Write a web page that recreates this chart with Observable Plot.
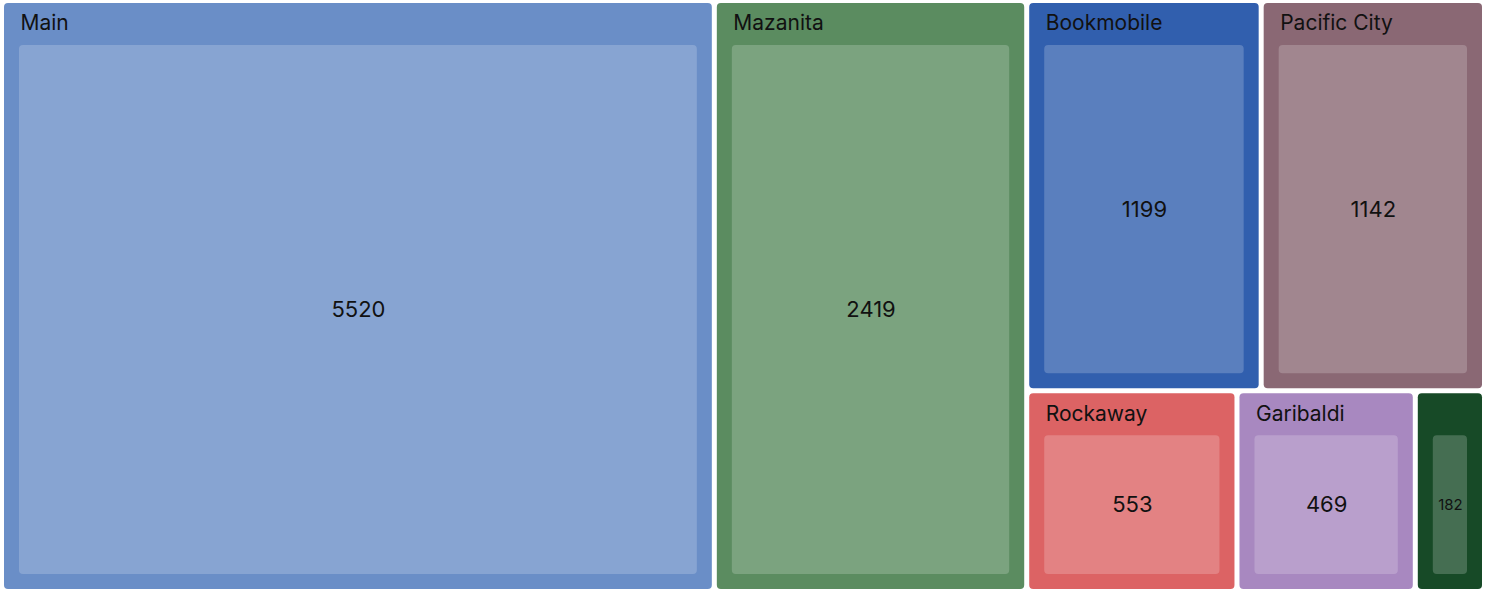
<!DOCTYPE html>
<html><head><meta charset="utf-8">
<script src="https://cdn.jsdelivr.net/npm/d3@7"></script>
<script src="https://cdn.jsdelivr.net/npm/@observablehq/plot@0.6"></script>
<style>body{margin:0;background:#fff;}</style>
</head><body><div id="chart"></div>
<script>
const names = ["Main", "Mazanita", "Bookmobile", "Pacific City", "Rockaway", "Garibaldi", "Bay City"];
const values = [5520, 2419, 1199, 1142, 553, 469, 182];
const colors = ["#6a8ec7", "#5b8c60", "#315fae", "#8a6874", "#dc6364", "#a888c0", "#174a27"];

const W = 1490, H = 590;
const root = d3.hierarchy({children: names.map((n, i) => ({name: n, value: values[i], color: colors[i]}))})
  .sum(d => d.value || 0)
  .sort((a, b) => b.value - a.value);
d3.treemap().tile(d3.treemapBinary).size([W, H])
  .paddingTop(3).paddingLeft(4).paddingRight(8).paddingBottom(1).paddingInner(5)(root);
const leaves = root.leaves().map(d => ({
  name: d.data.name, value: d.data.value, color: d.data.color,
  x0: d.x0, x1: d.x1, y0: d.y0, y1: d.y1
}));

const chart = Plot.plot({
  width: W, height: H, margin: 0,
  x: {domain: [0, W], range: [0, W], axis: null},
  y: {domain: [0, H], range: [0, H], axis: null},
  color: {type: "identity"},
  style: {fontFamily: "Inter, 'Noto Sans', sans-serif", background: "#fff"},
  marks: [
    Plot.rect(leaves, {x1: "x0", x2: "x1", y1: "y0", y2: "y1", fill: "color", rx: 4}),
    Plot.rect(leaves, {x1: d => d.x0 + 15, x2: d => d.x1 - 15, y1: d => d.y0 + 42, y2: d => d.y1 - 15, fill: "white", fillOpacity: 0.2, rx: 4}),
    Plot.text(leaves.filter(d => d.x1 - d.x0 > 100), {x: d => d.x0 + 16, y: d => d.y0 + 20, text: "name", textAnchor: "start", fontSize: 21, fill: "#111"}),
    Plot.text(leaves, {x: d => (d.x0 + d.x1) / 2, y: d => (d.y0 + 42 + d.y1 - 15) / 2, text: d => String(d.value), fontSize: d => (d.x1 - d.x0 > 100 ? 22 : 15), fill: "#111"})
  ]
});
document.getElementById("chart").appendChild(chart);
</script>
</body></html>
